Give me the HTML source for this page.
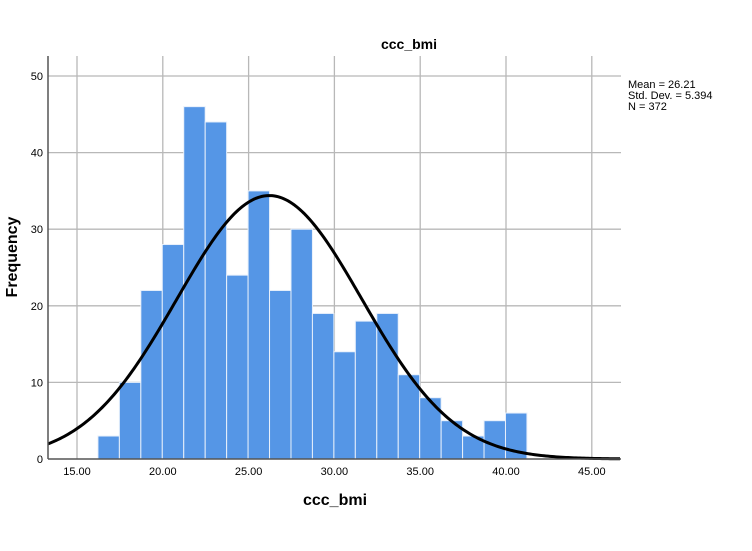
<!DOCTYPE html>
<html><head><meta charset="utf-8"><style>
body{margin:0;background:#fff;}
svg text{font-family:"Liberation Sans",Arial,sans-serif;}
</style></head><body>
<svg id="chart" width="752" height="546" xmlns="http://www.w3.org/2000/svg">
<text x="409" y="49" font-size="14" font-weight="bold" text-anchor="middle">ccc_bmi</text>
<g id="grid"></g><g id="bars"></g><g id="axes"></g>
<text x="335" y="505" font-size="16" font-weight="bold" text-anchor="middle">ccc_bmi</text>
<text transform="translate(17,257) rotate(-90)" font-size="16" font-weight="bold" text-anchor="middle">Frequency</text>
<g font-size="11">
<text x="628" y="88">Mean = 26.21</text>
<text x="628" y="99">Std. Dev. = 5.394</text>
<text x="628" y="110">N = 372</text>
</g>
</svg>
<script>
const binStart = 16.22;
const binWidth = 1.25;
const counts = [3,10,22,28,46,44,24,35,22,30,19,14,18,19,11,8,5,3,5,6];
const xTicks = [15,20,25,30,35,40,45];
const yTicks = [0,10,20,30,40,50];
const mean = 26.21, sd = 5.394, n = 372;
const NS='http://www.w3.org/2000/svg';
const X = v => 77 + (v-15)*17.16;
const Y = v => 459 - v*7.66;
const L=48,R=621,T=56,B=459;
function mk(t,a,p){const e=document.createElementNS(NS,t);for(const k in a)e.setAttribute(k,a[k]);p.appendChild(e);return e;}
const grid=document.getElementById('grid'), bars=document.getElementById('bars'), axes=document.getElementById('axes');
xTicks.forEach(v=>{
 const l=mk('line',{x1:X(v),x2:X(v),y1:T,y2:B,stroke:'#b8b8b8','stroke-width':1.3},grid);
 
 
 const t=mk('text',{x:X(v),y:475,'font-size':11,'text-anchor':'middle'},axes);
 t.textContent=v.toFixed(2);
 
 
});
yTicks.forEach(v=>{
 if(v>0){const l=mk('line',{x1:L,x2:R,y1:Y(v),y2:Y(v),stroke:'#b8b8b8','stroke-width':1.3},grid);
 
 }
 const t=mk('text',{x:43,y:Y(v)+4,'font-size':11,'text-anchor':'end'},axes);
 t.textContent=v;
 
 
});
counts.forEach((c,i)=>{
 const x0=X(binStart+i*binWidth), x1=X(binStart+(i+1)*binWidth);
 const r=mk('rect',{x:x0,y:Y(c),width:x1-x0,height:Y(0)-Y(c),fill:'#5596e6',stroke:'#e8f0fb','stroke-width':1},bars);
 
 
});
let d='';
for(let px=L;px<=R;px+=2){const v=15+(px-77)/17.16;const f=n*binWidth*Math.exp(-0.5*((v-mean)/sd)**2)/(sd*Math.sqrt(2*Math.PI));d+=(d?'L':'M')+px+','+Y(f);}
const c=mk('path',{d:d,fill:'none',stroke:'#000','stroke-width':3},bars);


const ax=mk('line',{x1:L,x2:L,y1:T,y2:B,stroke:'#555','stroke-width':1.5},axes);


const bx=mk('line',{x1:L,x2:R,y1:B,y2:B,stroke:'#555','stroke-width':1.5},axes);


</script>
</body></html>
